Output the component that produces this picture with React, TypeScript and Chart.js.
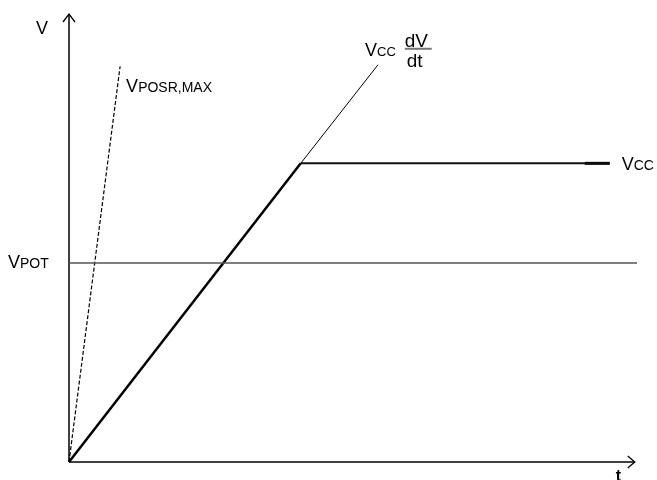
import React, { useEffect, useRef } from "react";
import { Chart, registerables } from "chart.js";

Chart.register(...registerables);

// Time / voltage values (arbitrary units)
const rampT = [0, 4.08];
const rampV = [0, 4.0];
const vccT = [4.08, 9.52];
const vccV = [4.0, 4.0];
const vccEndT = [9.08, 9.52];
const vccEndV = [4.0, 4.0];
const slopeT = [4.08, 5.44];
const slopeV = [4.0, 5.32];
const posrT = [0, 0.9];
const posrV = [0, 5.3];
const potT = [0, 10];
const potV = [2.665, 2.665];
const xAxisT = [0, 9.96];
const xAxisV = [0, 0];
const yAxisT = [0, 0];
const yAxisV = [0, 6.0];

const X_MIN = 0;
const X_MAX = 10;
const Y_MIN = 0;
const Y_MAX = 6;

const FONT = '"Liberation Sans", Arial, sans-serif';

const pts = (xs: number[], ys: number[]) => xs.map((x, i) => ({ x, y: ys[i] }));

function subText(ctx: CanvasRenderingContext2D, x: number, y: number, main: string, sub: string, mainSize: number, subSize: number) {
  ctx.font = `${mainSize}px ${FONT}`;
  ctx.fillText(main, x, y);
  const w = ctx.measureText(main).width;
  ctx.font = `${subSize}px ${FONT}`;
  ctx.fillText(sub, x + w, y);
  return x + w + ctx.measureText(sub).width;
}

const labelPlugin = {
  id: "labels",
  afterDatasetsDraw(chart: any) {
    const ctx: CanvasRenderingContext2D = chart.ctx;
    const xs = chart.scales.x;
    const ys = chart.scales.y;
    const px = (v: number) => xs.getPixelForValue(v);
    const py = (v: number) => ys.getPixelForValue(v);
    ctx.save();
    ctx.fillStyle = "#000";
    ctx.strokeStyle = "#000";
    ctx.textAlign = "left";
    ctx.textBaseline = "alphabetic";

    // arrowheads
    const ox = px(yAxisT[1]);
    const oy = py(yAxisV[1]);
    ctx.lineWidth = 1.3;
    ctx.beginPath();
    ctx.moveTo(ox - 6, oy + 8);
    ctx.lineTo(ox, oy);
    ctx.lineTo(ox + 6, oy + 8);
    ctx.stroke();
    const ax = px(xAxisT[1]);
    const ay = py(xAxisV[1]);
    ctx.beginPath();
    ctx.moveTo(ax - 7, ay - 6);
    ctx.lineTo(ax, ay);
    ctx.lineTo(ax - 7, ay + 6);
    ctx.stroke();

    // axis labels
    ctx.font = `18px ${FONT}`;
    ctx.fillText("V", ox - 33, oy + 20);
    ctx.font = `bold 16px ${FONT}`;
    ctx.fillText("t", ax - 19, ay + 19);

    // VPOT
    subText(ctx, 8, py(potV[0]) + 5, "V", "POT", 18, 14);
    // VPOSR,MAX
    subText(ctx, px(posrT[1]) + 6, py(posrV[1]) + 26, "V", "POSR,MAX", 18, 14);
    // Vcc at right
    subText(ctx, px(vccT[1]) + 12, py(vccV[1]) + 7, "V", "CC", 18, 14);
    // Vcc dV/dt
    const sx = px(slopeT[1]) - 13;
    const sy = py(slopeV[1]) - 9;
    const end = subText(ctx, sx, sy, "V", "CC", 18, 13);
    const fx = end + 9;
    ctx.font = `19px ${FONT}`;
    ctx.fillText("dV", fx, sy - 9);
    ctx.strokeStyle = "#777";
    ctx.lineWidth = 2;
    ctx.beginPath();
    ctx.moveTo(fx, sy - 7);
    ctx.lineTo(fx + 27, sy - 7);
    ctx.stroke();
    ctx.fillText("dt", fx + 2, sy + 11);
    ctx.restore();
  },
};

export default function App() {
  const ref = useRef<HTMLCanvasElement | null>(null);
  useEffect(() => {
    if (!ref.current) return;
    const line = (data: any, color: string, width: number, extra: any = {}) => ({
      data,
      borderColor: color,
      borderWidth: width,
      showLine: true,
      pointRadius: 0,
      fill: false,
      clip: false,
      borderCapStyle: "butt",
      ...extra,
    });
    const chart = new Chart(ref.current, {
      type: "scatter",
      data: {
        datasets: [
          line(pts(potT, potV), "#555", 1.3),
          line(pts(xAxisT, xAxisV), "#000", 1.5),
          line(pts(yAxisT, yAxisV), "#000", 1.5),
          line(pts(posrT, posrV), "#000", 1.2, { borderDash: [4, 2] }),
          line(pts(slopeT, slopeV), "#000", 1),
          line(pts(vccT, vccV), "#111", 2),
          line(pts(vccEndT, vccEndV), "#000", 3),
          line(pts(rampT, rampV), "#000", 2.5),
        ] as any,
      },
      options: {
        animation: false,
        responsive: false,
        layout: { padding: { left: 69, right: 20, top: 14, bottom: 18 } },
        plugins: { legend: { display: false }, tooltip: { enabled: false } },
        scales: {
          x: { type: "linear", min: X_MIN, max: X_MAX, display: false },
          y: { type: "linear", min: Y_MIN, max: Y_MAX, display: false },
        },
      },
      plugins: [labelPlugin],
    } as any);
    return () => chart.destroy();
  }, []);
  return (
    <div style={{ position: "fixed", left: 0, top: 0, width: 657, height: 480, background: "#fff" }}>
      <canvas ref={ref} width={657} height={480} />
    </div>
  );
}
